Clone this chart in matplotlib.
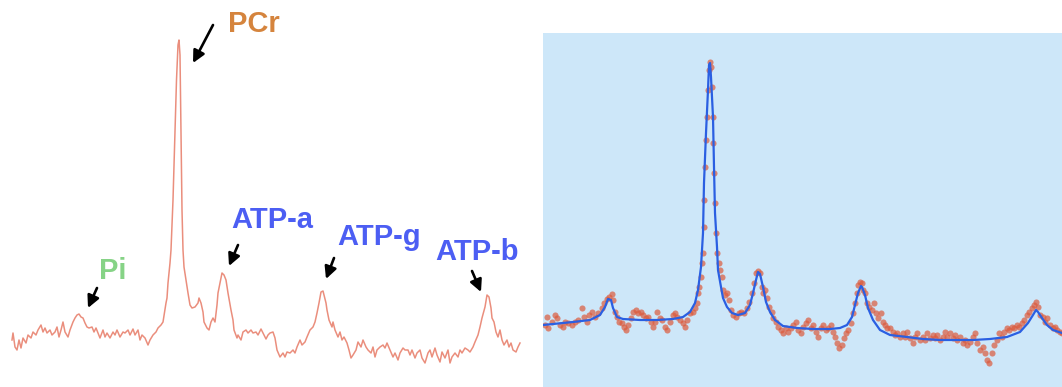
import numpy as np
import matplotlib
matplotlib.use("Agg")
import matplotlib.pyplot as plt
from matplotlib.transforms import offset_copy

plt.rcParams['font.family'] = ['Liberation Sans', 'DejaVu Sans']

# Raw 31P spectrum (point index vs. intensity, arbitrary units)
trace_x = [2, 3, 5, 7, 9, 11, 13, 16, 18, 21,
           23, 26, 28, 31, 33, 35, 37, 40, 42, 45,
           47, 49, 51, 53, 55, 58, 60, 63, 65, 67,
           69, 71, 73, 75, 77, 79, 82, 84, 86, 88,
           90, 93, 95, 97, 100, 103, 105, 107, 110, 113,
           115, 118, 120, 123, 125, 128, 130, 132, 135, 138,
           140, 143, 146, 148, 151, 153, 156, 157, 158, 160,
           161, 163, 165, 166.5, 168, 169, 170, 171, 172, 173,
           174, 176, 178, 180, 182, 185, 188, 189, 191, 193,
           194, 197, 199, 201, 203, 205, 207, 208, 210, 212,
           214, 216, 218, 221, 223, 224, 227, 228, 231, 233,
           236, 238, 241, 243, 246, 248, 251, 253, 256, 258,
           260, 263, 265, 267, 270, 273, 275, 277, 280, 283,
           285, 287, 290, 292, 295, 297, 300, 303, 305, 307,
           309, 311, 313, 314, 316, 317, 319, 322, 323, 325,
           328, 330, 332, 334, 337, 339, 341, 343, 346, 348,
           351, 353, 356, 358, 361, 363, 365, 367, 370, 373,
           375, 377, 380, 383, 385, 388, 390, 393, 395, 398,
           400, 402, 405, 407, 410, 412, 415, 418, 420, 422,
           425, 427, 430, 432, 435, 438, 440, 442, 445, 448,
           450, 452, 455, 458, 460, 463, 465, 468, 470, 472,
           475, 477, 479, 481, 482, 484, 486, 488, 490, 492,
           494, 497, 499, 501, 503, 506, 508, 510]
trace_y = [30, 37, 23, 20, 30, 22, 32, 27, 35, 32,
           38, 35, 40, 45, 38, 42, 37, 40, 35, 38,
           43, 33, 40, 48, 38, 33, 40, 48, 52, 55,
           56, 53, 52, 47, 43, 42, 43, 38, 42, 37,
           32, 40, 33, 37, 32, 38, 35, 40, 33, 38,
           37, 40, 35, 41, 35, 40, 30, 35, 32, 25,
           30, 35, 38, 42, 45, 48, 67, 72, 87, 107,
           120, 170, 240, 290, 325, 330, 315, 240, 160, 120,
           103, 90, 77, 65, 62, 63, 67, 72, 67, 58,
           48, 42, 40, 48, 52, 48, 65, 77, 87, 97,
           95, 90, 77, 60, 50, 40, 32, 35, 30, 38,
           40, 37, 40, 37, 38, 35, 41, 37, 31, 35,
           37, 38, 32, 20, 13, 17, 13, 18, 17, 20,
           17, 23, 30, 25, 28, 33, 40, 43, 48, 57,
           67, 78, 79, 75, 67, 60, 50, 43, 48, 40,
           33, 38, 30, 33, 27, 20, 12, 15, 20, 28,
           23, 30, 23, 20, 17, 23, 13, 20, 23, 25,
           22, 27, 20, 13, 17, 10, 17, 22, 20, 20,
           15, 20, 12, 17, 20, 12, 7, 17, 20, 13,
           22, 15, 8, 18, 12, 20, 7, 13, 17, 13,
           20, 17, 22, 20, 18, 23, 28, 35, 43, 52,
           63, 75, 73, 62, 52, 48, 38, 33, 40, 30,
           25, 30, 23, 27, 20, 18, 23, 27]

# Processed spectrum used for the fit
obs_x = [10, 12, 13, 17, 20, 22, 25, 28, 30, 33,
         37, 40, 43, 47, 49, 52, 54, 57, 60, 63,
         67, 69, 72, 74, 77, 78, 80, 82, 84, 87,
         89, 91, 93, 96, 98, 101, 103, 106, 108, 111,
         113, 116, 118, 120, 122, 125, 127, 130, 132, 135,
         138, 140, 142, 145, 148, 150, 152, 155, 158, 160,
         162, 163, 164, 166, 167, 168, 168.5, 169, 170, 171,
         172, 173, 174, 175, 176, 177, 177.5, 178, 179, 180,
         181, 182, 184, 185, 187, 188, 190, 192, 194, 196,
         198, 201, 204, 206, 209, 212, 214, 217, 219, 221,
         223, 225, 227, 228, 230, 232, 234, 237, 238, 241,
         243, 246, 248, 251, 253, 256, 258, 261, 263, 266,
         268, 271, 273, 276, 278, 281, 283, 286, 288, 291,
         293, 296, 298, 300, 302, 304, 307, 309, 311, 313,
         316, 318, 320, 322, 323, 325, 327, 328, 330, 332,
         334, 337, 339, 341, 343, 346, 348, 350, 352, 355,
         358, 360, 362, 365, 368, 370, 372, 375, 378, 380,
         382, 385, 388, 390, 392, 395, 398, 400, 402, 405,
         408, 410, 412, 415, 418, 420, 422, 425, 428, 430,
         432, 435, 438, 440, 442, 445, 448, 450, 452, 454,
         457, 459, 462, 464, 467, 469, 472, 474, 477, 479,
         482, 484, 487, 489, 492, 494, 497, 499, 501, 503,
         505, 508, 510, 512, 515, 518, 520, 522, 525, 527]
obs_y = [45, 53, 42, 48, 55, 52, 45, 43, 48, 47,
         45, 48, 50, 62, 53, 48, 55, 58, 53, 57,
         62, 67, 71, 73, 76, 70, 58, 53, 48, 47,
         43, 40, 45, 52, 58, 60, 57, 58, 55, 52,
         53, 48, 43, 48, 58, 52, 50, 43, 40, 48,
         55, 57, 53, 50, 47, 43, 50, 57, 58, 62,
         67, 77, 83, 93, 107, 117, 143, 170, 203, 230,
         253, 280, 300, 308, 303, 283, 253, 227, 197, 167,
         137, 117, 107, 100, 93, 80, 75, 77, 70, 60,
         55, 53, 57, 58, 57, 62, 68, 77, 87, 97,
         99, 97, 83, 77, 80, 72, 63, 58, 52, 48,
         43, 40, 37, 42, 38, 42, 45, 48, 40, 37,
         43, 47, 50, 42, 45, 38, 33, 42, 45, 40,
         42, 45, 38, 33, 27, 22, 25, 32, 37, 40,
         47, 57, 67, 77, 85, 88, 87, 80, 77, 67,
         63, 60, 67, 57, 52, 57, 48, 45, 42, 42,
         38, 35, 37, 33, 37, 33, 38, 32, 27, 33,
         37, 30, 33, 30, 37, 32, 35, 32, 35, 30,
         33, 38, 33, 37, 32, 35, 30, 33, 27, 30,
         25, 28, 33, 37, 27, 20, 23, 17, 10, 7,
         17, 25, 30, 37, 33, 38, 42, 40, 43, 42,
         45, 43, 47, 50, 55, 58, 62, 65, 68, 63,
         55, 53, 48, 52, 45, 42, 43, 40, 38, 37]

# Fitted line shape
fit_x = [8, 38, 55, 65, 70, 73, 76, 78, 82, 88,
         105, 122, 138, 148, 155, 160, 163, 166, 168, 169,
         171, 173, 174, 175, 176, 178, 179, 180, 182, 183,
         186, 188, 192, 197, 203, 210, 215, 218, 221, 223,
         225, 228, 231, 235, 240, 248, 262, 278, 295, 305,
         312, 317, 320, 323, 326, 327, 330, 333, 338, 345,
         355, 372, 388, 405, 422, 438, 455, 472, 485, 493,
         498, 501, 503, 507, 512, 518, 527]
fit_y = [45, 48, 50, 55, 63, 71, 70, 62, 53, 51,
         50, 50, 51, 53, 58, 67, 80, 103, 137, 187,
         237, 280, 305, 307, 293, 253, 203, 157, 123, 100,
         83, 72, 63, 57, 55, 57, 65, 77, 90, 98,
         96, 83, 68, 58, 50, 44, 42, 41, 41, 42,
         45, 53, 65, 77, 84, 83, 75, 62, 50, 40,
         35, 33, 31, 30, 30, 30, 31, 33, 38, 47,
         55, 60, 58, 52, 45, 40, 37]

# Peak labels: name, search window on the raw trace, colour
peak_names = ['Pi', 'PCr', 'ATP-a', 'ATP-g', 'ATP-b']
peak_windows = [(50, 100), (150, 190), (200, 240), (300, 330), (460, 500)]
peak_colors = ['#86d386', '#d5843d', '#4c5ef3', '#4c5ef3', '#4c5ef3']
# pixel offsets from the peak top: label anchor, arrow head, arrow tail
label_offsets = [(20, 35), (49, 8), (9, 45), (14, 46), (-52, 35)]
head_offsets = [(9, 6), (14, -23), (7, 7), (3, 12), (-6, 3)]
tail_offsets = [(18, 26), (34, 15), (16, 28), (11, 33), (-15, 24)]

DPI = 100
fig = plt.figure(figsize=(10.62, 3.87), dpi=DPI)

# --- left: raw spectrum with annotations ---
ax1 = fig.add_axes([0, 0, 540 / 1062, 1])
ax1.plot(trace_x, trace_y, color='#e8826f', lw=1.1, alpha=0.9)
ax1.set_xlim(-10, 530)
ax1.set_ylim(-17, 370)
ax1.set_axis_off()

tx = np.array(trace_x, dtype=float)
ty = np.array(trace_y, dtype=float)
for name, (lo, hi), col, loff, hoff, toff in zip(peak_names, peak_windows, peak_colors,
                                                 label_offsets, head_offsets, tail_offsets):
    sel = (tx >= lo) & (tx <= hi)
    k = np.argmax(ty[sel])
    px, py = tx[sel][k], ty[sel][k]
    ax1.annotate(name, xy=(px, py), xytext=loff, textcoords='offset pixels',
                 ha='left', va='baseline', fontsize=21, fontweight='bold', color=col)
    head_tr = offset_copy(ax1.transData, fig=fig, x=hoff[0], y=hoff[1], units='dots')
    ax1.annotate('', xy=(px, py), xycoords=head_tr,
                 xytext=(toff[0] - hoff[0], toff[1] - hoff[1]), textcoords='offset pixels',
                 arrowprops=dict(arrowstyle='-|>', color='black', lw=1.9,
                                 mutation_scale=18, shrinkA=0, shrinkB=0))

# --- right: fitted spectrum ---
ax2 = fig.add_axes([543 / 1062, 0, 519 / 1062, 354 / 387])
ax2.set_facecolor('#cde7f9')
ax2.plot(obs_x, obs_y, 'o', color='#dc5a3c', ms=4.4, mec='none', alpha=0.7)
ax2.plot(fit_x, fit_y, color='#2a5fe2', lw=1.6)
ax2.set_xlim(8, 527)
ax2.set_ylim(-17, 337)
ax2.set_xticks([])
ax2.set_yticks([])
for s in ax2.spines.values():
    s.set_visible(False)

fig.savefig('out.png', dpi=DPI)
